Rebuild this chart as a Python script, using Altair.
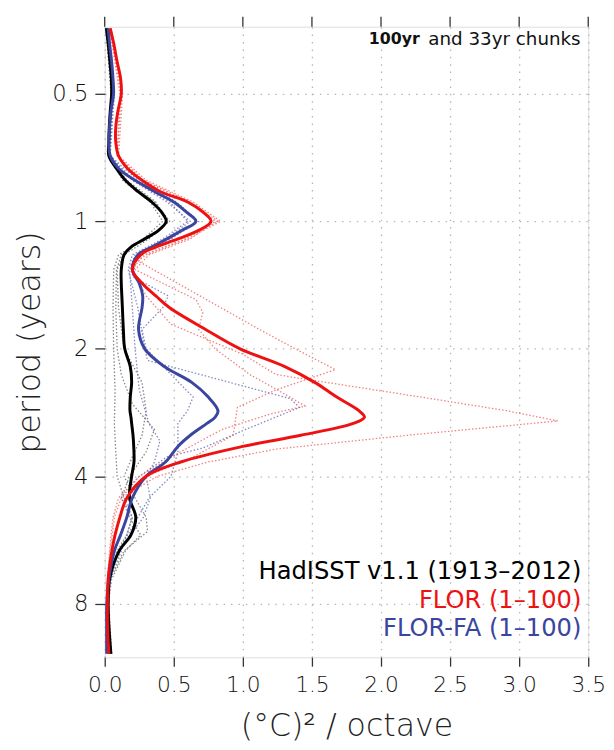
import altair as alt
import pandas as pd

# ---------------- data ----------------
# shared period grid (years) for the 100-yr thick curves
PERIOD = [0.35, 0.38, 0.42, 0.46, 0.5, 0.55, 0.6, 0.65, 0.7, 0.75, 0.8, 0.85, 0.9, 0.95,
          1.0, 1.05, 1.1, 1.15, 1.2, 1.3, 1.4, 1.5, 1.6, 1.8, 2.0, 2.2, 2.4, 2.6, 2.8, 2.9,
          3.0, 3.2, 3.4, 3.7, 4.0, 4.5, 5.0, 5.5, 6.0, 7.0, 8.0, 9.0, 10.5]

HADISST = [0.012, 0.025, 0.038, 0.048, 0.05, 0.04, 0.033, 0.03, 0.03, 0.085, 0.15, 0.24, 0.34, 0.41,
           0.445, 0.39, 0.29, 0.19, 0.14, 0.12, 0.12, 0.124, 0.128, 0.135, 0.145, 0.185, 0.195, 0.185,
           0.183, 0.19, 0.195, 0.205, 0.21, 0.212, 0.195, 0.18, 0.225, 0.19, 0.105, 0.035, 0.025, 0.03, 0.045]
FLOR = [0.04, 0.065, 0.09, 0.115, 0.12, 0.095, 0.08, 0.08, 0.1, 0.165, 0.27, 0.4, 0.6, 0.71,
        0.77, 0.68, 0.53, 0.37, 0.26, 0.2, 0.27, 0.37, 0.47, 0.73, 0.98, 1.3, 1.52, 1.68,
        1.84, 1.88, 1.8, 1.42, 1.0, 0.55, 0.3, 0.16, 0.11, 0.075, 0.052, 0.025, 0.02, 0.02, 0.03]
FLOR_FA = [0.025, 0.035, 0.05, 0.06, 0.064, 0.045, 0.035, 0.03, 0.04, 0.1, 0.22, 0.36, 0.5, 0.59,
           0.66, 0.56, 0.45, 0.34, 0.24, 0.2, 0.25, 0.275, 0.27, 0.245, 0.29, 0.43, 0.63, 0.75,
           0.82, 0.8, 0.74, 0.62, 0.53, 0.44, 0.3, 0.2, 0.16, 0.115, 0.07, 0.03, 0.015, 0.014, 0.014]

# 33-yr chunks (dotted)
HAD_C1_P = [0.35, 0.5, 0.7, 0.8, 0.9, 1.0, 1.1, 1.2, 1.3, 1.6, 2.0, 2.5, 3.0, 3.5, 4.0, 4.5, 5.0, 5.5, 6.0, 7.0, 8.0, 10.5]
HAD_C1_V = [0.01, 0.045, 0.03, 0.14, 0.36, 0.47, 0.3, 0.1, 0.065, 0.06, 0.065, 0.075, 0.07, 0.08, 0.09, 0.14, 0.2, 0.16, 0.09, 0.04, 0.03, 0.04]
HAD_C2_P = [0.35, 0.5, 0.7, 0.8, 0.9, 1.0, 1.1, 1.2, 1.3, 1.6, 2.0, 2.4, 2.8, 3.2, 3.6, 4.0, 4.5, 5.0, 5.4, 6.0, 7.0, 8.0, 10.5]
HAD_C2_V = [0.015, 0.055, 0.035, 0.16, 0.37, 0.46, 0.32, 0.14, 0.09, 0.1, 0.14, 0.27, 0.3, 0.27, 0.2, 0.14, 0.22, 0.3, 0.31, 0.14, 0.04, 0.03, 0.05]
HAD_C3_P = [0.35, 0.5, 0.7, 0.8, 0.9, 1.0, 1.1, 1.2, 1.3, 1.6, 2.0, 2.3, 2.7, 3.1, 3.5, 4.0, 4.5, 5.0, 5.5, 6.0, 7.0, 8.0, 10.5]
HAD_C3_V = [0.01, 0.05, 0.03, 0.13, 0.33, 0.42, 0.28, 0.12, 0.085, 0.08, 0.09, 0.12, 0.2, 0.36, 0.3, 0.18, 0.12, 0.18, 0.26, 0.15, 0.05, 0.025, 0.04]

FA_C1_P = [0.35, 0.5, 0.7, 0.8, 0.9, 1.0, 1.1, 1.2, 1.3, 1.6, 2.0, 2.13, 2.62, 2.75, 3.1, 3.43, 3.6, 4.0, 4.5, 5.0, 6.0, 7.0, 8.0, 10.5]
FA_C1_V = [0.02, 0.06, 0.035, 0.21, 0.47, 0.6, 0.42, 0.2, 0.17, 0.24, 0.29, 0.31, 1.34, 1.41, 1.02, 0.71, 0.45, 0.25, 0.12, 0.2, 0.12, 0.04, 0.02, 0.02]
FA_C2_P = [0.35, 0.5, 0.7, 0.8, 0.9, 1.0, 1.1, 1.2, 1.35, 1.5, 1.6, 1.8, 2.0, 2.3, 2.6, 2.8, 3.0, 3.5, 4.0, 4.5, 5.0, 6.0, 7.0, 8.0, 10.5]
FA_C2_V = [0.025, 0.07, 0.04, 0.24, 0.52, 0.68, 0.48, 0.24, 0.2, 0.46, 0.42, 0.27, 0.3, 0.48, 0.64, 0.6, 0.53, 0.53, 0.48, 0.32, 0.24, 0.1, 0.03, 0.015, 0.02]
FA_C3_P = [0.35, 0.5, 0.7, 0.8, 0.9, 1.0, 1.1, 1.2, 1.3, 1.6, 2.0, 2.5, 3.0, 3.3, 3.7, 4.0, 4.5, 5.0, 6.0, 7.0, 8.0, 10.5]
FA_C3_V = [0.02, 0.06, 0.035, 0.2, 0.45, 0.62, 0.44, 0.22, 0.18, 0.2, 0.22, 0.25, 0.32, 0.4, 0.36, 0.3, 0.33, 0.28, 0.1, 0.03, 0.015, 0.02]

FLOR_C1_P = [0.35, 0.5, 0.7, 0.8, 0.9, 1.0, 1.1, 1.2, 1.24, 1.5, 1.8, 2.0, 2.24, 2.5, 2.75, 3.2, 3.6, 4.0, 4.5, 5.0, 6.0, 7.0, 8.0, 10.5]
FLOR_C1_V = [0.045, 0.13, 0.1, 0.3, 0.64, 0.84, 0.6, 0.3, 0.24, 0.69, 1.12, 1.38, 1.67, 1.24, 0.96, 0.93, 0.64, 0.3, 0.16, 0.1, 0.05, 0.025, 0.02, 0.03]
FLOR_C2_P = [0.35, 0.5, 0.7, 0.8, 0.9, 1.0, 1.1, 1.2, 1.3, 1.5, 1.75, 2.06, 2.3, 2.6, 2.8, 2.96, 3.2, 3.45, 3.7, 4.0, 4.5, 5.0, 6.0, 7.0, 8.0, 10.5]
FLOR_C2_V = [0.04, 0.12, 0.09, 0.28, 0.62, 0.82, 0.58, 0.28, 0.2, 0.3, 0.48, 1.0, 1.24, 2.29, 2.91, 3.28, 2.19, 1.24, 0.75, 0.38, 0.12, 0.07, 0.04, 0.02, 0.02, 0.03]
FLOR_C3_P = [0.35, 0.5, 0.7, 0.8, 0.9, 1.0, 1.1, 1.2, 1.3, 1.53, 1.64, 1.8, 2.0, 2.3, 2.5, 2.73, 2.85, 3.1, 3.5, 4.0, 4.5, 5.0, 6.0, 7.0, 8.0, 10.5]
FLOR_C3_V = [0.035, 0.11, 0.09, 0.27, 0.6, 0.8, 0.62, 0.32, 0.22, 0.66, 0.71, 0.68, 0.8, 1.05, 1.25, 1.45, 1.2, 0.85, 0.55, 0.25, 0.1, 0.06, 0.035, 0.02, 0.02, 0.03]

X_TICKS = [0.0, 0.5, 1.0, 1.5, 2.0, 2.5, 3.0, 3.5]
Y_TICKS = [0.5, 1, 2, 4, 8]

LEGEND_TEXT = ["HadISST v1.1 (1913\u20132012)", "FLOR (1\u2013100)", "FLOR-FA (1\u2013100)"]
LEGEND_X = [3.45, 3.45, 3.45]
LEGEND_P = [6.74, 7.87, 9.19]
LEGEND_SERIES = ["had", "flor", "fa"]

HEAD_BOLD = "100yr"
HEAD_REST = "and 33yr chunks"

# ---------------- build tables ----------------
series_defs = [
    ("had_c1", "dotted", HAD_C1_P, HAD_C1_V),
    ("had_c2", "dotted", HAD_C2_P, HAD_C2_V),
    ("had_c3", "dotted", HAD_C3_P, HAD_C3_V),
    ("fa_c1", "dotted", FA_C1_P, FA_C1_V),
    ("fa_c2", "dotted", FA_C2_P, FA_C2_V),
    ("fa_c3", "dotted", FA_C3_P, FA_C3_V),
    ("flor_c1", "dotted", FLOR_C1_P, FLOR_C1_V),
    ("flor_c2", "dotted", FLOR_C2_P, FLOR_C2_V),
    ("flor_c3", "dotted", FLOR_C3_P, FLOR_C3_V),
    ("had", "thick", PERIOD, HADISST),
    ("fa", "thick", PERIOD, FLOR_FA),
    ("flor", "thick", PERIOD, FLOR),
]
rows = []
for name, kind, ps, vs in series_defs:
    for i, (p, v) in enumerate(zip(ps, vs)):
        rows.append({"series": name, "kind": kind, "period": p, "value": v, "idx": i})
df = pd.DataFrame(rows)

leg = pd.DataFrame({"text": LEGEND_TEXT, "value": LEGEND_X, "period": LEGEND_P, "series": LEGEND_SERIES})
head_b = pd.DataFrame({"text": [HEAD_BOLD], "value": [2.28], "period": [0.372]})
head_r = pd.DataFrame({"text": [HEAD_REST], "value": [3.445], "period": [0.372]})
top_ticks = pd.DataFrame({"value": X_TICKS})

color_domain = ["had", "fa", "flor", "had_c1", "had_c2", "had_c3", "fa_c1", "fa_c2", "fa_c3",
                "flor_c1", "flor_c2", "flor_c3"]
color_range = ["#000000", "#3a45a0", "#ee1111", "#6f6f6f", "#6f6f6f", "#6f6f6f",
               "#6a74b4", "#6a74b4", "#6a74b4", "#f06a6a", "#f06a6a", "#f06a6a"]
cscale = alt.Scale(domain=color_domain, range=color_range)

FONT = "DejaVu Sans"
xscale = alt.Scale(domain=[0, 3.5], nice=False, zero=False)
yscale = alt.Scale(type="log", base=2, domain=[0.347, 10.7], reverse=True, nice=False)

x_axis = alt.Axis(values=X_TICKS, format=".1f", title="(\u00b0C)\u00b2 / octave",
                  labelFontSize=22, labelFont=FONT, labelFontWeight=200,
                  labelColor="#111", labelPadding=9, labelFlush=False,
                  tickSize=9, tickColor="#333", tickWidth=1.3, domain=False,
                  grid=True, gridDash=[1.5, 6], gridColor="#b5b5b5", gridWidth=1.3,
                  titleFontSize=32, titleFont=FONT, titleFontWeight=200,
                  titleColor="#222", titlePadding=15)
y_axis = alt.Axis(values=Y_TICKS, format="~g", title="period (years)",
                  labelFontSize=23, labelFont=FONT, labelFontWeight=200,
                  labelColor="#111", labelPadding=7, labelFlush=False,
                  tickSize=10, tickColor="#333", tickWidth=1.3, domain=False,
                  grid=True, gridDash=[1.5, 6], gridColor="#b5b5b5", gridWidth=1.3,
                  titleFontSize=32, titleFont=FONT, titleFontWeight=200,
                  titleColor="#222", titlePadding=5)

X = alt.X("value:Q", scale=xscale, axis=x_axis)
Y = alt.Y("period:Q", scale=yscale, axis=y_axis)
C = alt.Color("series:N", scale=cscale, legend=None)

base = alt.Chart(df)
dotted = base.transform_filter(alt.datum.kind == "dotted").mark_line(
    strokeDash=[1.5, 2], strokeWidth=1.3, opacity=0.85
).encode(x=X, y=Y, detail="series:N", order=alt.Order("idx:Q"), color=C)

thick_layers = []
for name in ["had", "fa", "flor"]:
    thick_layers.append(
        base.transform_filter(alt.datum.series == name).mark_line(
            strokeWidth=3, interpolate="catmull-rom"
        ).encode(x=X, y=Y, order=alt.Order("idx:Q"), color=C)
    )

legend_text = alt.Chart(leg).mark_text(align="right", baseline="middle", fontSize=24.5,
                                       font="DejaVu Sans").encode(
    x=X, y=Y, text="text:N", color=C)

head_bold = alt.Chart(head_b).mark_text(align="right", baseline="middle", fontSize=16,
                                        font="DejaVu Sans", fontWeight="bold", color="#111").encode(
    x=X, y=Y, text="text:N")
head_rest = alt.Chart(head_r).mark_text(align="right", baseline="middle", fontSize=18.5,
                                        font="DejaVu Sans", color="#111").encode(
    x=X, y=Y, text="text:N")

# top mirror ticks (outward, above the frame)
top_tick_marks = alt.Chart(top_ticks).mark_rule(color="#333", strokeWidth=1.3).encode(
    x=X, y=alt.value(-10), y2=alt.value(0))

chart = alt.layer(dotted, *thick_layers, legend_text, head_bold, head_rest, top_tick_marks).properties(
    width=490, height=639,
    autosize=alt.AutoSizeParams(type="none"),
    padding={"left": 98, "top": 14, "right": 18, "bottom": 88},
).configure_view(stroke="#333", strokeWidth=1.6).configure(background="white")

chart.save("out.html", embed_options={"renderer": "svg", "actions": False})
